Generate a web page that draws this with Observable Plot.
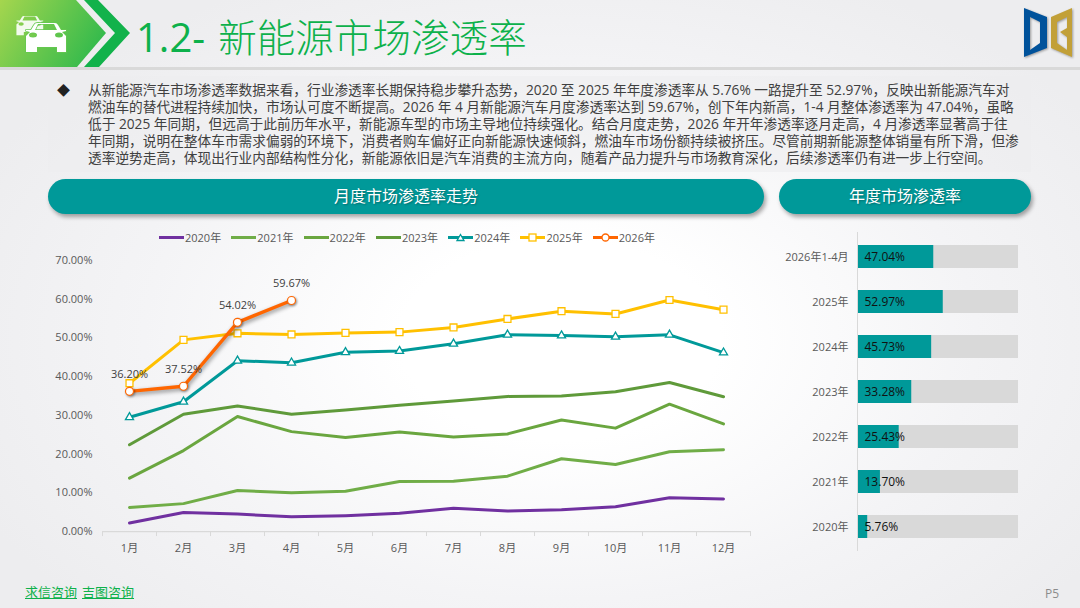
<!DOCTYPE html>
<html lang="zh">
<head>
<meta charset="utf-8">
<script src="https://cdn.jsdelivr.net/npm/d3@7"></script>
<script src="https://cdn.jsdelivr.net/npm/@observablehq/plot@0.6"></script>
<style>
html,body{margin:0;padding:0;width:1080px;height:608px;overflow:hidden}
body{position:relative;font-family:"Open Sans","Noto Sans CJK SC",sans-serif;
 background:radial-gradient(ellipse 640px 400px at 560px 340px,#fff 25%,#f4f4f6 65%,#ededef 100%)}
.abs{position:absolute}
#title{left:136px;top:12px;font-size:38.6px;line-height:50px;color:#0db14b;font-weight:300;white-space:nowrap}
#title span{font-size:40px;font-weight:400;margin-right:13px}
#rule{left:0;top:67px;width:1080px;height:3px;background:#d9d9d9}
#panel{left:48px;top:76px;width:983px;height:96px;background:rgba(236,236,238,.55)}
#bullet{left:57px;top:80px;font-size:13px;color:#222}
#body{left:88px;top:81px;font-size:13.7px;line-height:17px;color:#404040;white-space:nowrap}
.pill{background:#009999;color:#fff;font-size:16px;text-align:center;border-radius:18px;
 box-shadow:2px 3px 4px rgba(0,0,0,.35);text-shadow:1px 1px 2px rgba(0,0,0,.3)}
#pillL{left:48px;top:179px;width:716px;height:35px;line-height:35px}
#pillR{left:779px;top:179px;width:252px;height:35px;line-height:35px}
#legend{left:159px;top:229px;display:flex;font-size:11px;color:#595959;height:16px;align-items:center}
#legend .item{width:72.3px;display:flex;align-items:center;gap:1px}
#links{left:25px;top:582px;font-size:13px;color:#0db14b;text-decoration:underline;white-space:nowrap}
#links span{margin-right:5px}
#page{left:1045px;top:585px;font-size:12px;color:#8c8c8c}
svg{overflow:visible}
#lineChart svg,#barChart svg{background:transparent!important}
</style>
</head>
<body>
<svg class="abs" style="left:0;top:0" width="140" height="68" viewBox="0 0 140 68">
 <defs>
  <linearGradient id="g" gradientUnits="userSpaceOnUse" x1="0" y1="0" x2="110" y2="67"><stop offset="0" stop-color="#a5d64e"/><stop offset="1" stop-color="#1fb54c"/></linearGradient>
  <path id="car" fill-rule="evenodd" d="M26 52V36l4-4-4-1v-1h5l3-5q1-2 3-2h18q2 0 3 2l3 5h5v1l-4 1 4 4v16h-9v-5H37v5z M35 30h22l-3-6H38z M29 35a4 2.5 0 0 0 8 0a4 2.5 0 0 0 -8 0z M55 35a4 2.5 0 0 0 8 0a4 2.5 0 0 0 -8 0z"/>
 </defs>
 <polygon points="0,0 76,0 106,33 77,67 0,67" fill="url(#g)"/>
 <polygon points="84,0 98,0 130,33 99,67 84,67 115,33" fill="#12b24b"/>
 <use href="#car" transform="translate(-1,.5) scale(.67)" fill="#fff" opacity=".9"/>
 <use href="#car" fill="#fff" stroke="#66c850" stroke-width="1.5" paint-order="stroke"/>
</svg>
<div class="abs" id="title"><span>1.2-</span>新能源市场渗透率</div>
<div class="abs" id="rule"></div>
<svg class="abs" style="left:1015px;top:0;filter:drop-shadow(1px 1px 1px rgba(0,0,0,.35))" width="65" height="70" viewBox="0 0 65 70">
 <path d="M9 8L32 17V48L9 57Z M15 17V50L25 43V22Z" fill="#00529b" fill-rule="evenodd"/>
 <path d="M57 8L36 17V48L57 57Z M42 22V43L52 50V37L45 32L52 28V17Z" fill="#c2a038" fill-rule="evenodd"/>
</svg>
<div class="abs" id="panel"></div>
<div class="abs" id="bullet">◆</div>
<div class="abs" id="body"></div>
<div class="abs pill" id="pillL">月度市场渗透率走势</div>
<div class="abs pill" id="pillR">年度市场渗透率</div>
<div class="abs" id="legend"></div>
<div class="abs" id="lineChart" style="left:40px;top:245px"></div>
<div class="abs" id="barChart" style="left:770px;top:224px"></div>
<div class="abs" id="links"><span>求信咨询</span><span>吉图咨询</span></div>
<div class="abs" id="page">P5</div>
<script>
const months = ["1月","2月","3月","4月","5月","6月","7月","8月","9月","10月","11月","12月"];
const y2020 = [2.2,4.9,4.5,3.8,4.1,4.7,6.0,5.3,5.6,6.4,8.7,8.4];
const y2021 = [6.2,7.2,10.6,10.0,10.4,12.9,13.0,14.3,18.8,17.3,20.6,21.1];
const y2022 = [13.8,20.9,29.7,25.8,24.3,25.7,24.4,25.2,28.8,26.7,32.9,27.8];
const y2023 = [22.4,30.3,32.4,30.3,31.4,32.6,33.7,34.9,35.0,36.1,38.5,34.8];
const y2024 = [29.5,33.5,44.1,43.6,46.3,46.6,48.5,50.8,50.6,50.3,50.8,46.2];
const y2025 = [38.3,49.5,51.2,50.9,51.3,51.5,52.7,54.9,56.9,56.2,59.8,57.3];
const y2026 = [36.20,37.52,54.02,59.67];
const seriesNames = ["2020年","2021年","2022年","2023年","2024年","2025年","2026年"];
const seriesColors = ["#7030a0","#70ad47","#6aa63f","#5f9a3a","#009999","#ffc000","#ff6600"];
const yTicks = [0,10,20,30,40,50,60,70];
const yearLabels = ["2026年1-4月","2025年","2024年","2023年","2022年","2021年","2020年"];
const yearValues = [47.04,52.97,45.73,33.28,25.43,13.70,5.76];
const bodyLines = [
 "从新能源汽车市场渗透率数据来看，行业渗透率长期保持稳步攀升态势，2020 至 2025 年年度渗透率从 5.76% 一路提升至 52.97%，反映出新能源汽车对",
 "燃油车的替代进程持续加快，市场认可度不断提高。2026 年 4 月新能源汽车月度渗透率达到 59.67%，创下年内新高，1-4 月整体渗透率为 47.04%，虽略",
 "低于 2025 年同期，但远高于此前历年水平，新能源车型的市场主导地位持续强化。结合月度走势，2026 年开年渗透率逐月走高，4 月渗透率显著高于往",
 "年同期，说明在整体车市需求偏弱的环境下，消费者购车偏好正向新能源快速倾斜，燃油车市场份额持续被挤压。尽管前期新能源整体销量有所下滑，但渗",
 "透率逆势走高，体现出行业内部结构性分化，新能源依旧是汽车消费的主流方向，随着产品力提升与市场教育深化，后续渗透率仍有进一步上行空间。"
];
document.getElementById("body").innerHTML = bodyLines.join("<br>");

const allSeries = [y2020,y2021,y2022,y2023,y2024,y2025,y2026];
const rows = allSeries.flatMap((vals,i)=>vals.map((v,j)=>({month:months[j],value:v,series:seriesNames[i]})));
const pick = n => rows.filter(d=>d.series===n);
const fontFamily = '"Open Sans","Noto Sans CJK SC",sans-serif';
const lineMark = (n,c,extra={}) => Plot.line(pick(n),{x:"month",y:"value",stroke:c,strokeWidth:3,...extra});

const lineChart = Plot.plot({
  width:730,height:310,marginLeft:62,marginRight:20,marginTop:15,marginBottom:24,
  style:{background:"transparent",fontFamily,fontSize:"11px",color:"#595959"},
  x:{type:"point",domain:months,padding:.5,label:null},
  y:{domain:[0,70],label:null},
  marks:[
    Plot.ruleY([0],{stroke:"#d9d9d9",strokeWidth:1.25}),
    Plot.ruleX(months,{y1:0,y2:-1.3,stroke:"#d9d9d9",dx:-27}),
    Plot.ruleX(months.slice(-1),{y1:0,y2:-1.3,stroke:"#d9d9d9",dx:27}),
    Plot.axisY({ticks:yTicks,tickSize:0,tickPadding:10,tickFormat:d=>d.toFixed(2)+"%",anchor:"left",label:null,stroke:"none",fill:"#595959"}),
    Plot.axisX({tickSize:0,tickPadding:13,label:null,fill:"#595959",stroke:"none"}),
    lineMark("2020年",seriesColors[0]),
    lineMark("2021年",seriesColors[1]),
    lineMark("2022年",seriesColors[2]),
    lineMark("2023年",seriesColors[3]),
    lineMark("2024年",seriesColors[4]),
    Plot.dot(pick("2024年"),{x:"month",y:"value",symbol:"triangle",r:3,fill:"#fff",stroke:seriesColors[4],strokeWidth:1.3}),
    lineMark("2025年",seriesColors[5]),
    Plot.dot(pick("2025年"),{x:"month",y:"value",symbol:"square",r:3.9,fill:"#fff",stroke:seriesColors[5],strokeWidth:1.3}),
    lineMark("2026年",seriesColors[6],{strokeWidth:3.4,imageFilter:"drop-shadow(1px 2px 2px rgba(0,0,0,.45))"}),
    Plot.dot(pick("2026年"),{x:"month",y:"value",r:4,fill:"#fff",stroke:seriesColors[6],strokeWidth:1.2,imageFilter:"drop-shadow(1px 1px 1px rgba(0,0,0,.4))"}),
    Plot.text(pick("2026年"),{x:"month",y:"value",text:d=>d.value.toFixed(2)+"%",dy:-17,fill:"#404040",fontSize:11})
  ]
});
document.getElementById("lineChart").append(lineChart);

const barRows = yearLabels.map((k,i)=>({label:k,value:yearValues[i]}));
const barChart = Plot.plot({
  width:260,height:335,marginLeft:88,marginRight:12,marginTop:8,marginBottom:8,
  style:{background:"transparent",fontFamily,fontSize:"11px",color:"#595959"},
  x:{domain:[0,100],axis:null},
  y:{domain:yearLabels,paddingInner:.5,paddingOuter:.25,label:null},
  marks:[
    Plot.barX(barRows,{x1:0,x2:100,y:"label",fill:"#d9d9d9"}),
    Plot.barX(barRows,{x:"value",y:"label",fill:"#009999"}),
    Plot.ruleX([0],{stroke:"#d9d9d9",strokeWidth:1,dx:-1}),
    Plot.axisY({tickSize:0,tickPadding:10,label:null,fill:"#595959",stroke:"none"}),
    Plot.text(barRows,{x:0,y:"label",text:d=>d.value.toFixed(2)+"%",textAnchor:"start",dx:6,fill:"#111",fontSize:12})
  ]
});
document.getElementById("barChart").append(barChart);

const legend = document.getElementById("legend");
seriesNames.forEach((n,i)=>{
  const c = seriesColors[i];
  let marker = "";
  if(n==="2024年") marker = `<path d="M12.5 1.5L16 7.5H9Z" fill="#fff" stroke="${c}" stroke-width="1.3"/>`;
  if(n==="2025年") marker = `<rect x="9" y="1" width="7" height="7" fill="#fff" stroke="${c}" stroke-width="1.3"/>`;
  if(n==="2026年") marker = `<circle cx="12.5" cy="4.5" r="3.5" fill="#fff" stroke="${c}" stroke-width="1.3"/>`;
  const el = document.createElement("div");
  el.className = "item";
  el.innerHTML = `<svg width="25" height="9" style="flex:none"><line x1="0" x2="25" y1="4.5" y2="4.5" stroke="${c}" stroke-width="3"/>${marker}</svg><span>${n}</span>`;
  legend.append(el);
});
</script>
</body>
</html>
